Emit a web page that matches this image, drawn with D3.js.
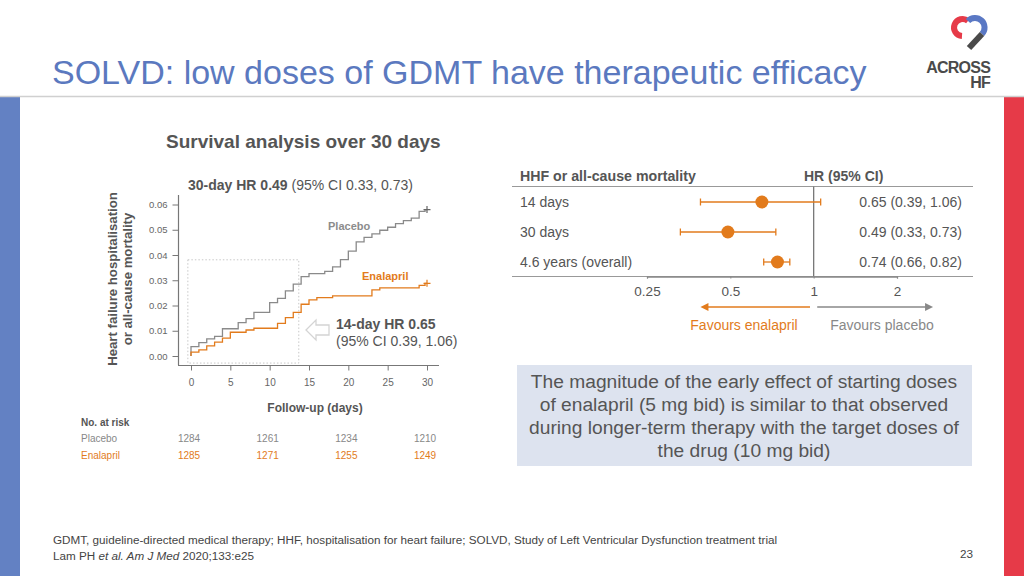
<!DOCTYPE html>
<html><head><meta charset="utf-8">
<script src="https://cdn.jsdelivr.net/npm/d3@7"></script>
<style>
html,body{margin:0;padding:0;background:#fff;}
svg{display:block;font-family:"Liberation Sans",Arial,sans-serif;}
</style></head>
<body><svg id="c" width="1024" height="576"></svg>
<script>
// ---------- data ----------
const placeboDays = [0, 0, 1, 2, 3, 4, 6, 7, 8, 10, 11, 12, 13, 14, 15, 17, 18, 19, 20, 21, 22, 23, 24, 25, 26, 27, 28, 29, 30];
const placeboRisk = [0, 0.0037, 0.0053, 0.0068, 0.0078, 0.0108, 0.0132, 0.0148, 0.0173, 0.0211, 0.0228, 0.0258, 0.0285, 0.0314, 0.0326, 0.0335, 0.0353, 0.0382, 0.0415, 0.0452, 0.0470, 0.0484, 0.0498, 0.0510, 0.0524, 0.0536, 0.0546, 0.0573, 0.0580];
const enalaprilDays = [0, 0, 1, 2, 3, 4, 5, 7, 8, 11, 12, 13, 14, 15, 16, 18, 23, 24, 29, 30];
const enalaprilRisk = [0, 0.0015, 0.0024, 0.0040, 0.0055, 0.0071, 0.0094, 0.0103, 0.0110, 0.0129, 0.0152, 0.0173, 0.0205, 0.0222, 0.0231, 0.0238, 0.0262, 0.0270, 0.0280, 0.0288];
const kmXTicks = [0, 5, 10, 15, 20, 25, 30];
const kmYTicks = [0, 0.01, 0.02, 0.03, 0.04, 0.05, 0.06];
const riskDays = [0, 10, 20, 30];
const riskPlacebo = [1284, 1261, 1234, 1210];
const riskEnalapril = [1285, 1271, 1255, 1249];

const forestLabels = ["14 days", "30 days", "4.6 years (overall)"];
const forestHR = [0.65, 0.49, 0.74];
const forestLo = [0.39, 0.33, 0.66];
const forestHi = [1.06, 0.73, 0.82];
const forestTicks = [0.25, 0.5, 1, 2];

const boxLines = ["The magnitude of the early effect of starting doses",
  "of enalapril (5 mg bid) is similar to that observed",
  "during longer-term therapy with the target doses of",
  "the drug (10 mg bid)"];

// ---------- styles ----------
const ORANGE = "#e27b1c", GRAY = "#8a8a8a", TXT = "#555555", BLUE = "#5b79bf", RED = "#e63a48";
const svg = d3.select("#c");

// ---------- frame ----------
svg.append("rect").attr("x", 0).attr("y", 97).attr("width", 20).attr("height", 479).attr("fill", "#6381c3");
svg.append("rect").attr("x", 1004).attr("y", 97).attr("width", 20).attr("height", 479).attr("fill", RED);
svg.append("line").attr("x1", 0).attr("x2", 1024).attr("y1", 96.5).attr("y2", 96.5).attr("stroke", "#d0d0d0").attr("stroke-width", 1.5);
svg.append("text").attr("x", 52).attr("y", 84).attr("font-size", 34).attr("fill", BLUE)
  .text("SOLVD: low doses of GDMT have therapeutic efficacy");

// logo
const logo = svg.append("g");
logo.append("path").attr("d", "M968,21 A8.5,8.5 0 1 0 962,36").attr("fill", "none").attr("stroke", RED).attr("stroke-width", 6);
logo.append("path").attr("d", "M968,21 A9.5,9.5 0 1 1 982,34").attr("fill", "none").attr("stroke", "#5a78c4").attr("stroke-width", 6);
logo.append("path").attr("d", "M982,34 L969,48").attr("stroke", "#4a4a4a").attr("stroke-width", 6).attr("stroke-linecap", "butt");
logo.append("text").attr("x", 990).attr("y", 73).attr("text-anchor", "end").attr("font-size", 16).attr("font-weight", "bold")
  .attr("fill", "#4a4a4a").attr("letter-spacing", -0.8).text("ACROSS");
logo.append("text").attr("x", 990).attr("y", 88).attr("text-anchor", "end").attr("font-size", 16).attr("font-weight", "bold")
  .attr("fill", "#4a4a4a").attr("letter-spacing", -0.8).text("HF");

// ---------- KM plot ----------
svg.append("text").attr("x", 166).attr("y", 148).attr("font-size", 19).attr("font-weight", "bold").attr("fill", TXT)
  .text("Survival analysis over 30 days");

const x = d3.scaleLinear().domain([0, 30]).range([191, 427]);
const y = d3.scaleLinear().domain([0, 0.06]).range([356, 204.5]);

const hdr = svg.append("text").attr("x", 188).attr("y", 190).attr("font-size", 14).attr("fill", TXT);
hdr.append("tspan").attr("font-weight", "bold").text("30-day HR 0.49");
hdr.append("tspan").text(" (95% CI 0.33, 0.73)");

svg.append("line").attr("x1", 178.5).attr("x2", 178.5).attr("y1", 195).attr("y2", 365).attr("stroke", "#777").attr("stroke-width", 1.2);
svg.append("line").attr("x1", 178).attr("x2", 439).attr("y1", 365.5).attr("y2", 365.5).attr("stroke", "#777").attr("stroke-width", 1.2);

const yAxis = svg.append("g").attr("transform", "translate(178.5,0)")
  .call(d3.axisLeft(y).tickValues(kmYTicks).tickFormat(d3.format(".2f")).tickSize(6).tickPadding(5));
yAxis.select(".domain").remove();
yAxis.selectAll("line").attr("stroke", "#777");
yAxis.selectAll("text").attr("font-size", 9.5).attr("fill", "#666").attr("font-family", "Liberation Sans, Arial, sans-serif");

const xAxis = svg.append("g").attr("transform", "translate(0,365.5)")
  .call(d3.axisBottom(x).tickValues(kmXTicks).tickSize(5).tickPadding(8));
xAxis.select(".domain").remove();
xAxis.selectAll("line").attr("stroke", "#777");
xAxis.selectAll("text").attr("font-size", 10).attr("fill", "#666").attr("font-family", "Liberation Sans, Arial, sans-serif");

svg.append("text").attr("x", 315).attr("y", 412).attr("text-anchor", "middle").attr("font-size", 12).attr("font-weight", "bold")
  .attr("fill", TXT).text("Follow-up (days)");

const yl = svg.append("text").attr("transform", "translate(120,279) rotate(-90)").attr("text-anchor", "middle")
  .attr("font-size", 13.2).attr("font-weight", "bold").attr("fill", TXT);
yl.append("tspan").attr("x", 0).attr("dy", -3).text("Heart failure hospitalisation");
yl.append("tspan").attr("x", 0).attr("dy", 15).text("or all-cause mortality");

svg.append("rect").attr("x", x(-0.4)).attr("y", y(0.0381)).attr("width", x(13.7) - x(-0.4)).attr("height", y(-0.0028) - y(0.0381))
  .attr("fill", "none").attr("stroke", "#c8c8c8").attr("stroke-dasharray", "1.5,2").attr("stroke-width", 1);

const line = d3.line().x(d => x(d[0])).y(d => y(d[1])).curve(d3.curveStepAfter);
const plac = placeboDays.map((d, i) => [d, placeboRisk[i]]);
const enal = enalaprilDays.map((d, i) => [d, enalaprilRisk[i]]);
const trimEnd = arr => arr.map((p, i) => i === arr.length - 1 ? [29.75, p[1]] : p);
svg.append("path").attr("d", line(trimEnd(plac).concat([[30, placeboRisk[placeboRisk.length - 1]]])))
  .attr("fill", "none").attr("stroke", GRAY).attr("stroke-width", 1.3);
svg.append("path").attr("d", line(trimEnd(enal).concat([[30, enalaprilRisk[enalaprilRisk.length - 1]]])))
  .attr("fill", "none").attr("stroke", ORANGE).attr("stroke-width", 1.3);
[[placeboRisk[placeboRisk.length - 1], "#666"], [enalaprilRisk[enalaprilRisk.length - 1], ORANGE]].forEach(([v, c]) => {
  svg.append("path").attr("d", `M${x(30) - 3.5},${y(v)}h7M${x(30)},${y(v) - 3.5}v7`).attr("stroke", c).attr("stroke-width", 1.2);
});

svg.append("text").attr("x", 328).attr("y", 230).attr("font-size", 11).attr("font-weight", "bold").attr("fill", "#8c8c8c").text("Placebo");
svg.append("text").attr("x", 362).attr("y", 280).attr("font-size", 11).attr("font-weight", "bold").attr("fill", ORANGE).text("Enalapril");

svg.append("path").attr("d", "M306,330 L316,320 L316,325 L329,325 L329,335 L316,335 L316,340 Z")
  .attr("fill", "#fff").attr("stroke", "#d4d4d4").attr("stroke-width", 1.3);
svg.append("text").attr("x", 336).attr("y", 329).attr("font-size", 14).attr("font-weight", "bold").attr("fill", TXT).text("14-day HR 0.65");
svg.append("text").attr("x", 336).attr("y", 346).attr("font-size", 14).attr("fill", TXT).text("(95% CI 0.39, 1.06)");

svg.append("text").attr("x", 81).attr("y", 426).attr("font-size", 10).attr("font-weight", "bold").attr("fill", TXT).text("No. at risk");
svg.append("text").attr("x", 81).attr("y", 442).attr("font-size", 10).attr("fill", "#888").text("Placebo");
svg.append("text").attr("x", 81).attr("y", 459).attr("font-size", 10).attr("fill", ORANGE).text("Enalapril");
riskDays.forEach((d, i) => {
  svg.append("text").attr("x", x(d) - 2).attr("y", 442).attr("text-anchor", "middle").attr("font-size", 10).attr("fill", "#888").text(riskPlacebo[i]);
  svg.append("text").attr("x", x(d) - 2).attr("y", 459).attr("text-anchor", "middle").attr("font-size", 10).attr("fill", ORANGE).text(riskEnalapril[i]);
});

// ---------- forest plot ----------
const fx = d3.scaleLog().base(2).domain([0.25, 2]).range([647, 897]);
const rowY = d3.scalePoint().domain(forestLabels).range([202, 262]);

svg.append("text").attr("x", 520).attr("y", 181).attr("font-size", 14.2).attr("font-weight", "bold").attr("fill", TXT).text("HHF or all-cause mortality");
svg.append("text").attr("x", 804).attr("y", 181).attr("font-size", 14).attr("font-weight", "bold").attr("fill", TXT).text("HR (95% CI)");
svg.append("line").attr("x1", 512).attr("x2", 973).attr("y1", 186.5).attr("y2", 186.5).attr("stroke", "#999").attr("stroke-width", 1.2);
svg.append("line").attr("x1", 512).attr("x2", 973).attr("y1", 276.5).attr("y2", 276.5).attr("stroke", "#999").attr("stroke-width", 1.2);
svg.append("line").attr("x1", fx(1)).attr("x2", fx(1)).attr("y1", 186.5).attr("y2", 276.5).attr("stroke", "#777").attr("stroke-width", 1.3);

const fAxis = svg.append("g").attr("transform", "translate(0,276.5)")
  .call(d3.axisBottom(fx).tickValues(forestTicks).tickFormat(d => String(d)).tickSize(2).tickPadding(8));
fAxis.select(".domain").attr("stroke", "#888").attr("stroke-width", 1.3);
fAxis.selectAll("line").attr("stroke", "#888");
fAxis.selectAll("text").attr("font-size", 13.5).attr("fill", TXT).attr("font-family", "Liberation Sans, Arial, sans-serif");

forestLabels.forEach((lab, i) => {
  const yy = rowY(lab);
  svg.append("text").attr("x", 520).attr("y", yy + 5).attr("font-size", 14).attr("fill", TXT).text(lab);
  svg.append("text").attr("x", 962).attr("y", yy + 5).attr("text-anchor", "end").attr("font-size", 14).attr("fill", TXT)
    .text(`${forestHR[i].toFixed(2)} (${forestLo[i].toFixed(2)}, ${forestHi[i].toFixed(2)})`);
  svg.append("line").attr("x1", fx(forestLo[i])).attr("x2", fx(forestHi[i])).attr("y1", yy).attr("y2", yy).attr("stroke", ORANGE).attr("stroke-width", 1.3);
  [forestLo[i], forestHi[i]].forEach(v => svg.append("line").attr("x1", fx(v)).attr("x2", fx(v)).attr("y1", yy - 3.5).attr("y2", yy + 3.5).attr("stroke", ORANGE).attr("stroke-width", 1.3));
  svg.append("circle").attr("cx", fx(forestHR[i])).attr("cy", yy).attr("r", 6.5).attr("fill", ORANGE);
});

svg.append("line").attr("x1", fx(0.97)).attr("x2", fx(0.39) + 6).attr("y1", 307).attr("y2", 307).attr("stroke", ORANGE).attr("stroke-width", 1.5);
svg.append("path").attr("d", `M${fx(0.39)},307 l8,-4 v8 z`).attr("fill", ORANGE);
svg.append("line").attr("x1", fx(1.03)).attr("x2", fx(2.7) - 6).attr("y1", 307).attr("y2", 307).attr("stroke", "#888").attr("stroke-width", 1.5);
svg.append("path").attr("d", `M${fx(2.7)},307 l-8,-4 v8 z`).attr("fill", "#888");
svg.append("text").attr("x", 744).attr("y", 330).attr("text-anchor", "middle").attr("font-size", 14).attr("fill", ORANGE).text("Favours enalapril");
svg.append("text").attr("x", 882).attr("y", 330).attr("text-anchor", "middle").attr("font-size", 14).attr("fill", "#888").text("Favours placebo");

// ---------- text box ----------
svg.append("rect").attr("x", 517).attr("y", 365).attr("width", 455).attr("height", 101).attr("fill", "#dde3ef");
boxLines.forEach((t, i) => {
  svg.append("text").attr("x", 744).attr("y", 388 + i * 23).attr("text-anchor", "middle").attr("font-size", 19.2).attr("fill", TXT).text(t);
});

// ---------- footer ----------
const FN = "'Liberation Sans Narrow','Arial Narrow',sans-serif";
svg.append("text").attr("x", 53).attr("y", 544).attr("font-size", 11.7).attr("fill", "#444").attr("font-family", FN)
  .text("GDMT, guideline-directed medical therapy; HHF, hospitalisation for heart failure; SOLVD, Study of Left Ventricular Dysfunction treatment trial");
const ft = svg.append("text").attr("x", 53).attr("y", 560).attr("font-size", 11.7).attr("fill", "#444").attr("font-family", FN);
ft.append("tspan").text("Lam PH ");
ft.append("tspan").attr("font-style", "italic").text("et al. Am J Med");
ft.append("tspan").text(" 2020;133:e25");
svg.append("text").attr("x", 973).attr("y", 558).attr("text-anchor", "end").attr("font-size", 11.7).attr("fill", "#444").attr("font-family", FN).text("23");
</script></body></html>
